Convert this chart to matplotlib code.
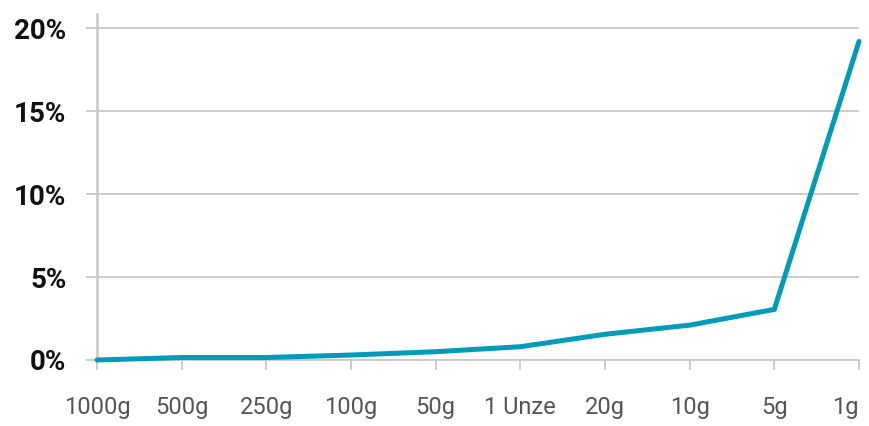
import numpy as np
import matplotlib.pyplot as plt

categories = ["1000g", "500g", "250g", "100g", "50g", "1 Unze", "20g", "10g", "5g", "1g"]
values = [0.0, 0.15, 0.15, 0.3, 0.5, 0.8, 1.55, 2.1, 3.05, 19.2]
y_ticks = [0, 5, 10, 15, 20]
y_labels = ["0%", "5%", "10%", "15%", "20%"]

grid_color = "#c8c8c8"
line_color = "#009bb8"

plt.rcParams['font.family'] = ['Roboto', 'DejaVu Sans']

fig = plt.figure(figsize=(8.69, 4.26), dpi=100)
ax = fig.add_axes([97 / 869, 1 - 360 / 426, (859 - 97) / 869, (360 - 14) / 426])

x = np.arange(len(categories))
ax.plot(x, values, color=line_color, linewidth=3.6, solid_capstyle='round',
        solid_joinstyle='miter', zorder=3, clip_on=False)

ax.set_xlim(0, len(categories) - 1)
ax.set_ylim(0, 20.85)

ax.set_yticks(y_ticks)
ax.set_yticklabels(y_labels, fontsize=20, fontweight='bold', color='#111111')
ax.set_xticks(x)
ax.set_xticklabels(categories, fontsize=17, color='#555555')
# keep the last label inside the picture
ax.get_xticklabels()[-1].set_horizontalalignment('right')
ax.get_xticklabels()[-1].set_x(9.12)

ax.yaxis.grid(True, color=grid_color, linewidth=1.3)
ax.set_axisbelow(True)

for side in ['top', 'right']:
    ax.spines[side].set_visible(False)
ax.spines['left'].set_color(grid_color)
ax.spines['left'].set_linewidth(1.8)
ax.spines['bottom'].set_color(grid_color)
ax.spines['bottom'].set_linewidth(1.3)

ax.tick_params(axis='y', length=8, width=1.3, color=grid_color, pad=14)
ax.tick_params(axis='x', length=7, width=1.3, color=grid_color, pad=19)

fig.savefig("out.png", dpi=100)
